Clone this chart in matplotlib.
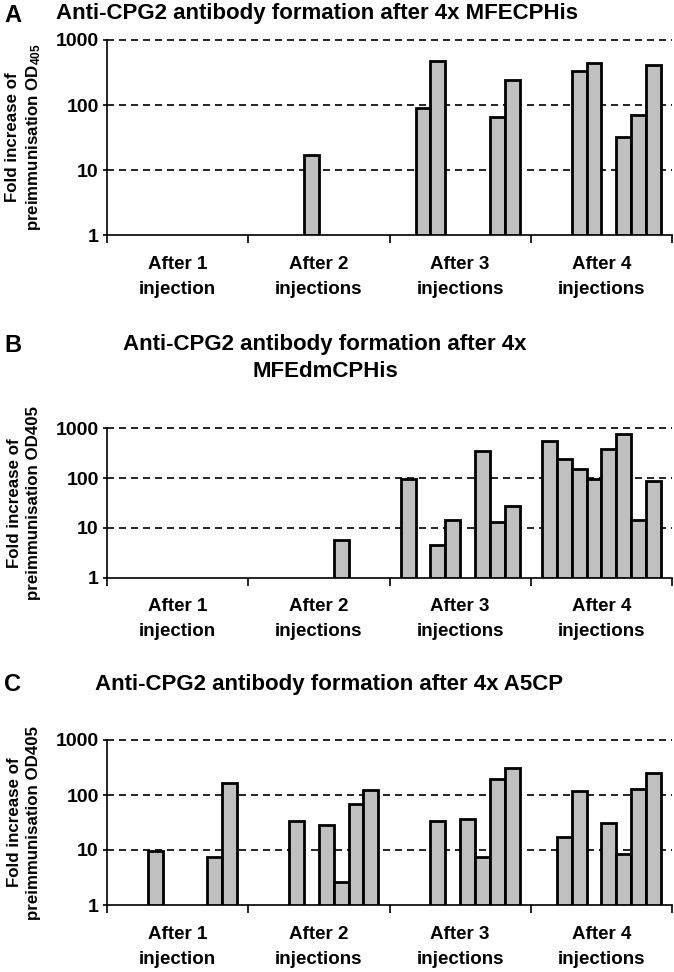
import numpy as np
import matplotlib
matplotlib.use("Agg")
import matplotlib.pyplot as plt
from matplotlib.ticker import FixedLocator, NullFormatter

plt.rcParams['font.family'] = ['Liberation Sans', 'DejaVu Sans']
plt.rcParams['font.weight'] = 'bold'
plt.rcParams['mathtext.fontset'] = 'custom'
plt.rcParams['mathtext.rm'] = 'Liberation Sans:bold'
plt.rcParams['mathtext.it'] = 'Liberation Sans:bold'
plt.rcParams['mathtext.bf'] = 'Liberation Sans:bold'

# x categories, each holds 8 animals (None = no bar drawn)
categories = ["After 1\ninjection", "After 2\ninjections",
              "After 3\ninjections", "After 4\ninjections"]
y_ticks = [1, 10, 100, 1000]

# fold increase values
mfecphis = [
    [None, None, None, None, None, None, None, None],
    [None, None, None, 17, None, None, None, None],
    [None, 91, 475, None, None, None, 66, 243],
    [None, None, 337, 437, None, 32, 70, 412],
]
mfedmcphis = [
    [None, None, None, None, None, None, None, None],
    [None, None, None, None, None, 5.7, None, None],
    [97, None, 4.4, 14, None, 355, 13, 27],
    [557, 239, 152, 97, 380, 760, 14, 88],
]
a5cp = [
    [None, None, 9.5, None, None, None, 7.4, 167],
    [None, None, 34, None, 28, 2.6, 68, 123],
    [None, None, 34, None, 37, 7.4, 193, 306],
    [None, 17.5, 118, None, 31, 8.3, 127, 248],
]

W, H = 674, 972
fig = plt.figure(figsize=(W / 100, H / 100), dpi=100)


def px_axes(left, top, right, bottom):
    # pixel box (from top-left) -> figure fraction axes
    return fig.add_axes([left / W, 1 - bottom / H, (right - left) / W, (bottom - top) / H])


def draw_panel(ax, data, ylabel):
    n = len(data[0])
    gap = 1.5  # excel style gap width
    bw = 1 / (n + gap)
    for c, group in enumerate(data):
        for k, v in enumerate(group):
            if v is None:
                continue
            x = c + (gap / 2 + k + 0.5) * bw
            ax.bar(x, v - 1, bottom=1, width=bw, color='#c0c0c0',
                   edgecolor='black', linewidth=2.0, zorder=3)
    ax.set_yscale('log')
    ax.set_ylim(1, 1000)
    ax.set_xlim(0, len(data))
    for g in y_ticks[1:]:
        ax.axhline(g, color='black', lw=1.2, ls=(0, (4.2, 3)), zorder=1, clip_on=False)
    ax.yaxis.set_major_locator(FixedLocator(y_ticks))
    ax.yaxis.set_minor_locator(FixedLocator([]))
    ax.set_yticklabels([str(t) for t in y_ticks])
    ax.tick_params(axis='y', length=3, width=1.2, labelsize=14, pad=3)
    ax.xaxis.set_major_locator(FixedLocator(range(len(data) + 1)))
    ax.xaxis.set_major_formatter(NullFormatter())
    ax.xaxis.set_minor_locator(FixedLocator(np.arange(len(data)) + 0.5))
    ax.set_xticklabels(categories, minor=True, linespacing=1.6)
    ax.tick_params(axis='x', which='major', length=6, width=1.2)
    ax.tick_params(axis='x', which='minor', length=0, labelsize=13.5, pad=15)
    for s in ['top', 'right']:
        ax.spines[s].set_visible(False)
    for s in ['left', 'bottom']:
        ax.spines[s].set_linewidth(1.2)
    # y label as figure text, centred on the axes
    pos = ax.get_position()
    fig.text(24 / W, pos.y0 + pos.height / 2, ylabel, rotation=90, ha='center', va='center',
             fontsize=12.2, fontweight='bold', linespacing=1.3)


ax_a = px_axes(107, 40, 672, 235)
draw_panel(ax_a, mfecphis, "Fold increase of\npreimmunisation OD$_{405}$")
ax_b = px_axes(107, 428.3, 672, 577.5)
draw_panel(ax_b, mfedmcphis, "Fold increase of\npreimmunisation OD405")
ax_c = px_axes(107, 740, 672, 905)
draw_panel(ax_c, a5cp, "Fold increase of\npreimmunisation OD405")

# panel letters and titles
letter_kw = dict(fontsize=17, fontweight='bold', va='center', ha='left')
title_kw = dict(fontsize=16, fontweight='bold', va='center')
fig.text(4 / W, 1 - 15 / H, "A", **letter_kw)
fig.text(56 / W, 1 - 14 / H, "Anti-CPG2 antibody formation after 4x MFECPHis", ha='left', **title_kw)
fig.text(4 / W, 1 - 346 / H, "B", **letter_kw)
fig.text(325 / W, 1 - 358 / H, "Anti-CPG2 antibody formation after 4x\nMFEdmCPHis",
         ha='center', linespacing=1.4, **title_kw)
fig.text(4 / W, 1 - 684 / H, "C", **letter_kw)
fig.text(329 / W, 1 - 684 / H, "Anti-CPG2 antibody formation after 4x A5CP", ha='center', **title_kw)

fig.savefig("out.png", dpi=100)
